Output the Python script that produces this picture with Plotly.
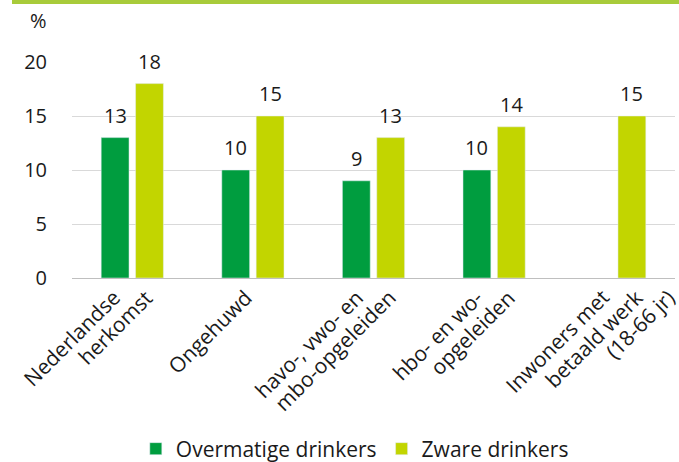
import plotly.graph_objects as go

categories = ["Nederlandse herkomst", "Ongehuwd", "havo-, vwo- en mbo-opgeleiden",
              "hbo- en wo- opgeleiden", "Inwoners met betaald werk (18-66 jr)"]
category_lines = [["Nederlandse", "herkomst"], ["Ongehuwd"], ["havo-, vwo- en", "mbo-opgeleiden"],
                  ["hbo- en wo-", "opgeleiden"], ["Inwoners met", "betaald werk", "(18-66 jr)"]]
overmatig = [13, 10, 9, 10, None]
zwaar = [18, 15, 13, 14, 15]
yticks = [0, 5, 10, 15, 20]

# style: horizontal offset (px) of the first line's end relative to the tick
label_base_shift = [-15, -4, -13, -14, -8]
LINE_STEP = 33
BAR_OFFSET = 17.2  # px offset of each bar centre from its category centre

FONT = "Open Sans"
PH = 216.0
PW = 603.0
TXT = "#1a1a1a"
fig = go.Figure()
fig.add_bar(x=categories, y=overmatig, name="Overmatige drinkers", marker_color="#009d3f")
fig.add_bar(x=categories, y=zwaar, name="Zware drinkers", marker_color="#c2d500")

annotations = [dict(text="%", xref="paper", yref="paper", x=(38 - 72) / PW,
                    y=1 + (62 - 20) / PH, xanchor="center", yanchor="middle",
                    showarrow=False, font=dict(size=20, color=TXT))]
# value labels
for series, sign in ((overmatig, -1), (zwaar, 1)):
    for cat, v in zip(categories, series):
        if v is None:
            continue
        annotations.append(dict(text=str(v), x=cat, y=v, xref="x", yref="y",
                                xanchor="center", yanchor="bottom", showarrow=False,
                                xshift=sign * BAR_OFFSET, yshift=7,
                                font=dict(size=20, color=TXT, family=FONT)))
# category labels (rotated)
for cat, lines, base in zip(categories, category_lines, label_base_shift):
    for i, line in enumerate(lines):
        annotations.append(dict(
            text=line, x=cat, xref="x", y=0, yref="paper", textangle=-45,
            xanchor="right", yanchor="top", showarrow=False,
            xshift=base + LINE_STEP * i + 11, yshift=-3,
            font=dict(size=21, color=TXT, family=FONT)))

fig.update_layout(
    width=679, height=462,
    margin=dict(l=72, r=4, t=62, b=184, autoexpand=False),
    paper_bgcolor="white", plot_bgcolor="white",
    font=dict(family=FONT, size=20, color=TXT),
    barmode="group", bargap=0.43, bargroupgap=0.19,
    showlegend=True,
    legend=dict(orientation="h", x=0.469, xanchor="center", y=13 / 462, yref="container",
                yanchor="middle", font=dict(size=21), traceorder="normal",
                itemwidth=30, tracegroupgap=0),
    shapes=[dict(type="rect", xref="paper", yref="paper", x0=(12 - 72) / PW, x1=1.01,
                 y0=1 + 58 / PH, y1=1 + 63 / PH, line_width=0, fillcolor="#a8cb3a")],
    annotations=annotations,
)
fig.update_yaxes(range=[0, 20], tickvals=yticks, showgrid=True, gridcolor="#d9d9d9",
                 zeroline=False, showline=False, ticks="outside", ticklen=20,
                 tickcolor="rgba(0,0,0,0)", tickfont=dict(size=20), automargin=False)
fig.update_xaxes(range=[-0.5, len(categories) - 0.5], autorange=False,
                 showline=True, linecolor="#bfbfbf", ticks="", showticklabels=False,
                 automargin=False)
fig.write_html("out.html", config={"displayModeBar": False},
               post_script="document.body.style.margin='0';")
